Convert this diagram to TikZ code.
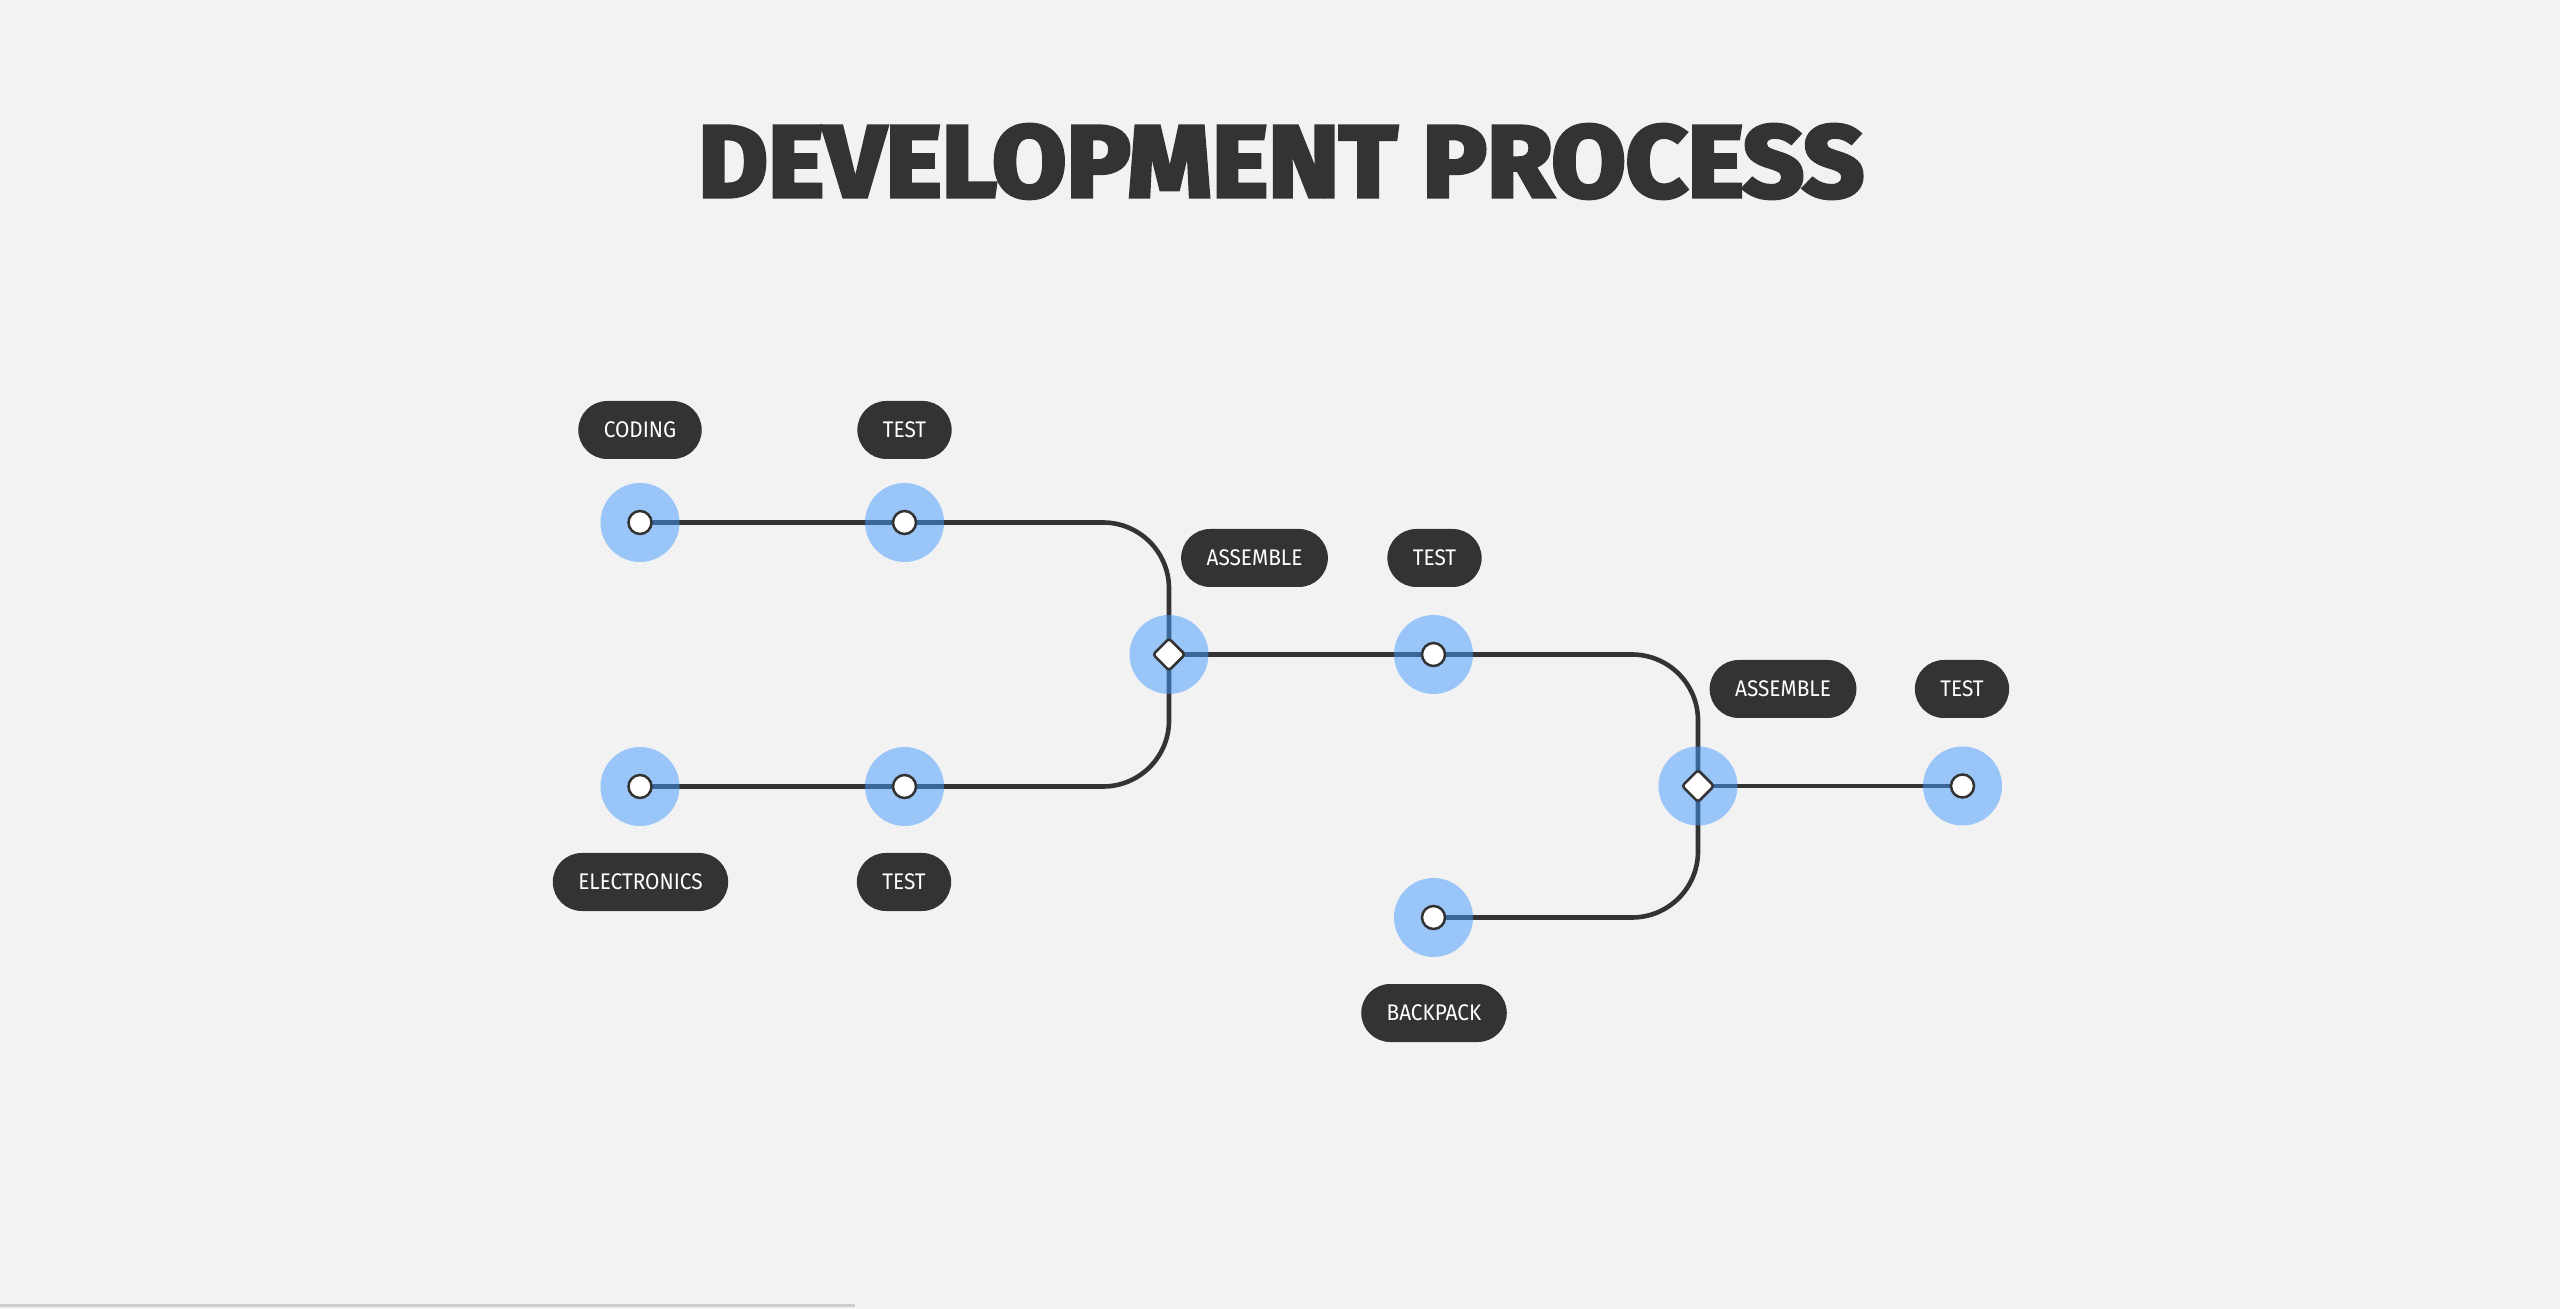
\documentclass[tikz,border=0pt]{standalone}
\usepackage{fontspec}
\usepackage{graphicx}
\setmainfont{Fira Sans}[FakeStretch=0.92]
\newfontfamily\titlefont{Fira Sans}[BoldFeatures={FakeBold=4}]
\usetikzlibrary{shapes.geometric}
\usetikzlibrary{positioning}

\definecolor{bgpaper}{HTML}{F2F2F2}
\definecolor{ink}{HTML}{333333}
\definecolor{haloblue}{RGB}{68,154,254}
\pgfdeclarelayer{back}
\pgfsetlayers{back,main}

\begin{document}
\begin{tikzpicture}
        [
            x=0.5pt, y=-0.5pt,
            halo/.style={circle, fill=haloblue, fill opacity=0.5, minimum size=39.5pt, inner sep=0pt},
            dot/.style={circle, draw=ink, fill=white, line width=1.25pt, minimum size=11.5pt, inner sep=0pt},
            merge/.style={diamond, draw=ink, fill=white, line width=1.25pt, minimum size=16.5pt, inner sep=0pt, rounded corners=1.5pt},
            tag/.style={fill=ink, text=white, rounded corners=14.5pt, minimum height=29pt, minimum width=44.5pt, inner xsep=12.75pt, font=\fontsize{11.3}{13}\selectfont},
            track/.style={draw=ink, line width=2.3pt, rounded corners=33pt},
        ]
        \begin{pgfonlayer}{back}
            \fill[bgpaper] (0,0) rectangle (2560,1309);
        \end{pgfonlayer}
        \useasboundingbox (0,0) rectangle (2560,1309);
        \draw[line width=1.5pt, draw=black!19] (0,1305.5) -- (855,1305.5);

        \node[text=ink] (title) at (1281,161.5)
            {\resizebox{583pt}{36pt}{\titlefont\bfseries DEVELOPMENT PROCESS}};

        % stations
        \node[halo] (coding) at (640,522.5) {};
        \node[halo] (testa) at (904.5,522.5) {};
        \node[halo] (electronics) at (640,786.5) {};
        \node[halo] (testb) at (904.5,786.5) {};
        \node[halo] (asma) at (1169,654.5) {};
        \node[halo] (testc) at (1433.5,654.5) {};
        \node[halo] (backpack) at (1433.5,917.5) {};
        \node[halo] (asmb) at (1698,786) {};
        \node[halo] (testd) at (1962.5,786) {};

        \foreach \n in {coding,testa,electronics,testb,testc,backpack,testd}
            \node[dot] (\n dot) at (\n) {};
        \node[merge] (asmadot) at (asma) {};
        \node[merge] (asmbdot) at (asmb) {};

        % tracks
        \begin{pgfonlayer}{back}
            \path[track] (coding.center) -- (testa.center) -- (testa.center -| asma.center) -- (asma.center);
            \path[track] (electronics.center) -- (testb.center) -- (testb.center -| asma.center) -- (asma.center);
            \path[track] (asma.center) -- (testc.center) -- (testc.center -| asmb.center) -- (asmb.center);
            \path[track] (backpack.center) -- (backpack.center -| asmb.center) -- (asmb.center);
            \path[track] (asmb.center) -- (testd.center);
        \end{pgfonlayer}

        % tags
        \node[tag] (codingtag) at (640,430) {CODING};
        \node[tag] (testatag) at (904.5,430) {TEST};
        \node[tag] (asmatag) at (1254.5,558) {ASSEMBLE};
        \node[tag] (testctag) at (1434.5,558) {TEST};
        \node[tag] (asmbtag) at (1783,689) {ASSEMBLE};
        \node[tag] (testdtag) at (1962,689) {TEST};
        \node[tag] (electronicstag) at (640.5,882) {ELECTRONICS};
        \node[tag] (testbtag) at (904,882) {TEST};
        \node[tag] (backpacktag) at (1434,1013) {BACKPACK};
    \end{tikzpicture}
\end{document}
